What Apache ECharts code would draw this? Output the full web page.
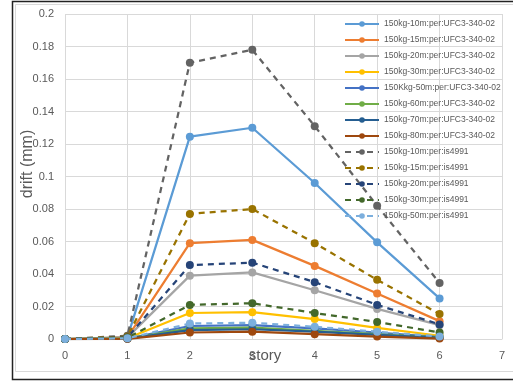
<!DOCTYPE html>
<html>
<head>
<meta charset="utf-8">
<script src="https://cdn.jsdelivr.net/npm/echarts@6/dist/echarts.min.js"></script>
<style>
  html, body { margin: 0; padding: 0; background: #ffffff; }
  #chart { width: 513px; height: 385px; }
</style>
</head>
<body>
<div id="chart"></div>
<script>
// Story numbers on the x axis
var stories = [0, 1, 2, 3, 4, 5, 6];

// Drift values (mm) per story for each load case
var ufc10 = [0, 0.001, 0.1245, 0.130, 0.096, 0.0595, 0.025];
var ufc15 = [0, 0.001, 0.059, 0.061, 0.045, 0.028, 0.011];
var ufc20 = [0, 0.001, 0.039, 0.041, 0.030, 0.0185, 0.0085];
var ufc30 = [0, 0.0005, 0.016, 0.0165, 0.0123, 0.0068, 0.002];
var ufc50 = [0, 0.0003, 0.008, 0.0085, 0.0065, 0.004, 0.0012];
var ufc60 = [0, 0.0003, 0.0065, 0.007, 0.005, 0.003, 0.001];
var ufc70 = [0, 0.0002, 0.0055, 0.006, 0.0045, 0.0025, 0.0008];
var ufc80 = [0, 0.0001, 0.004, 0.0045, 0.003, 0.0015, 0.0003];
var is10 = [0, 0.002, 0.170, 0.178, 0.131, 0.082, 0.0345];
var is15 = [0, 0.0015, 0.077, 0.080, 0.059, 0.0364, 0.0154];
var is20 = [0, 0.001, 0.0455, 0.047, 0.035, 0.021, 0.009];
var is30 = [0, 0.0008, 0.021, 0.022, 0.016, 0.0105, 0.004];
var is50 = [0, 0.0004, 0.0095, 0.010, 0.0075, 0.0045, 0.0015];

// Axis tick labels and titles
var xTicks = ['0', '1', '2', '3', '4', '5', '6', '7'];
var yTicks = ['0', '0.02', '0.04', '0.06', '0.08', '0.1', '0.12', '0.14', '0.16', '0.18', '0.2'];
var xTitle = 'story';
var yTitle = 'drift (mm)';

var seriesDefs = [
  { name: '150kg-10m:per:UFC3-340-02', data: ufc10, color: '#5B9BD5', dash: 'solid' },
  { name: '150kg-15m:per:UFC3-340-02', data: ufc15, color: '#ED7D31', dash: 'solid' },
  { name: '150kg-20m:per:UFC3-340-02', data: ufc20, color: '#A5A5A5', dash: 'solid' },
  { name: '150kg-30m:per:UFC3-340-02', data: ufc30, color: '#FFC000', dash: 'solid' },
  { name: '150Kkg-50m:per:UFC3-340-02', data: ufc50, color: '#4472C4', dash: 'solid' },
  { name: '150kg-60m:per:UFC3-340-02', data: ufc60, color: '#70AD47', dash: 'solid' },
  { name: '150kg-70m:per:UFC3-340-02', data: ufc70, color: '#255E91', dash: 'solid' },
  { name: '150kg-80m:per:UFC3-340-02', data: ufc80, color: '#9E480E', dash: 'solid' },
  { name: '150kg-10m:per:is4991', data: is10, color: '#636363', dash: [6, 5] },
  { name: '150kg-15m:per:is4991', data: is15, color: '#997300', dash: [6, 5] },
  { name: '150kg-20m:per:is4991', data: is20, color: '#264478', dash: [6, 5] },
  { name: '150kg-30m:per:is4991', data: is30, color: '#43682B', dash: [6, 5] },
  { name: '150kg-50m:per:is4991', data: is50, color: '#7CAFDD', dash: [6, 5] }
];

var font = '"Liberation Sans", Arial, sans-serif';
var textColor = '#595959';
var gridColor = '#d9d9d9';

var series = seriesDefs.map(function (d) {
  return {
    name: d.name,
    type: 'line',
    data: stories.map(function (s, i) { return [s, d.data[i]]; }),
    symbol: 'circle',
    symbolSize: 8,
    itemStyle: { color: d.color },
    lineStyle: { color: d.color, width: 2.25, type: d.dash },
    emphasis: { disabled: true },
    animation: false
  };
});

var chart = echarts.init(document.getElementById('chart'), null, { renderer: 'canvas' });
chart.setOption({
  backgroundColor: '#ffffff',
  animation: false,
  color: seriesDefs.map(function (d) { return d.color; }),
  graphic: [
    // outer frame and inner chart-area border
    { type: 'rect', shape: { x: 12.5, y: 1.5, width: 520, height: 378 },
      style: { fill: 'none', stroke: '#222222', lineWidth: 1.5 }, z: -10 },
    { type: 'rect', shape: { x: 15.5, y: 4.5, width: 520, height: 367 },
      style: { fill: 'none', stroke: gridColor, lineWidth: 1 }, z: -10 },
    // axis titles
    { type: 'text', x: 265, y: 356, z: 5,
      style: { text: xTitle, font: '15px ' + font, fill: textColor, align: 'center', verticalAlign: 'middle' } },
    { type: 'text', x: 28, y: 164, rotation: Math.PI / 2, z: 5,
      style: { text: yTitle, font: '16px ' + font, fill: textColor, align: 'center', verticalAlign: 'middle' } }
  ],
  grid: { left: 65, right: 11, top: 14, bottom: 46, containLabel: false },
  legend: {
    orient: 'vertical',
    left: 344,
    top: 18,
    itemWidth: 34,
    itemHeight: 7,
    itemGap: 4,
    padding: 0,
    textStyle: { fontFamily: font, fontSize: 8.5, color: textColor, lineHeight: 12 },
    data: seriesDefs.map(function (d) { return d.name; })
  },
  xAxis: {
    type: 'value',
    min: 0,
    max: 7,
    interval: 1,
    axisLine: { show: true, lineStyle: { color: gridColor } },
    axisTick: { show: false },
    axisLabel: {
      fontFamily: font, fontSize: 11, color: textColor, margin: 11,
      formatter: function (v) { return xTicks[Math.round(v)]; }
    },
    splitLine: { show: true, lineStyle: { color: gridColor } }
  },
  yAxis: {
    type: 'value',
    min: 0,
    max: 0.2,
    interval: 0.02,
    axisLine: { show: false },
    axisTick: { show: false },
    axisLabel: {
      fontFamily: font, fontSize: 11, color: textColor, margin: 11,
      formatter: function (v) { return yTicks[Math.round(v / 0.02)]; }
    },
    splitLine: { show: true, lineStyle: { color: gridColor } }
  },
  series: series
});
</script>
</body>
</html>
